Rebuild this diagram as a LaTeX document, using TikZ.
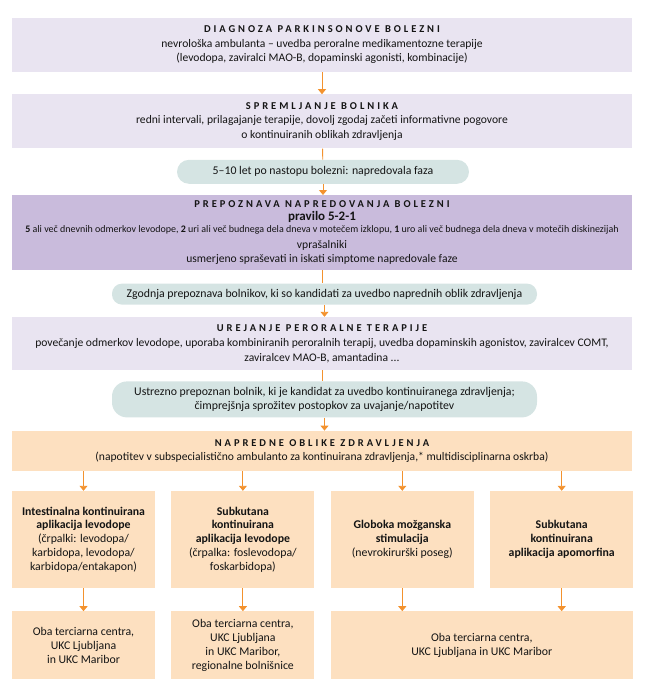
\documentclass[tikz,border=0pt]{standalone}
\usepackage{fontspec}
\setmainfont{Carlito}
\newfontfamily\spacedfont[LetterSpace=28]{Carlito}
\usetikzlibrary{arrows.meta,positioning}
\definecolor{lavender}{HTML}{E9E4F1}
\definecolor{violet}{HTML}{C9BBDC}
\definecolor{teal}{HTML}{D5E4E3}
\definecolor{peach}{HTML}{FDE0C0}
\definecolor{flow}{HTML}{F3922E}
\definecolor{ink}{HTML}{141414}
\newcommand{\heading}[1]{{\spacedfont\bfseries\fontsize{10.5}{12}\selectfont #1}}

\begin{document}
\begin{tikzpicture}[
  x=1pt, y=-1pt,
  mainbox/.style={fill=lavender, minimum width=620pt, inner sep=0pt, align=center, text=ink, font=\fontsize{11.6}{14.5}\selectfont},
  pill/.style={fill=teal, rounded corners=10pt, inner sep=0pt, align=center, text=ink, font=\fontsize{11.8}{14}\selectfont},
  carebox/.style={fill=peach, minimum width=143pt, inner sep=0pt, align=center, text=ink, font=\fontsize{11.8}{13.8}\selectfont},
  line/.style={draw=flow, line width=0.9pt},
  arr/.style={line, -{Triangle[width=8pt,length=5pt]}},
]
\useasboundingbox (0,0) rectangle (648,688);
% osnovni tok
\node[mainbox, minimum height=54pt] (diag) at (322,45)
  {\heading{DIAGNOZA PARKINSONOVE BOLEZNI}\\
   nevrološka ambulanta – uvedba peroralne medikamentozne terapije\\
   (levodopa, zaviralci MAO-B, dopaminski agonisti, kombinacije)};
\node[mainbox, minimum height=54pt, below=22pt of diag] (spreml)
  {\heading{SPREMLJANJE BOLNIKA}\\
   redni intervali, prilagajanje terapije, dovolj zgodaj začeti informativne pogovore\\
   o kontinuiranih oblikah zdravljenja};
\node[pill, rounded corners=12pt, minimum width=292pt, minimum height=24pt, below=11pt of spreml, xshift=1pt] (faza)
  {5–10 let po nastopu bolezni: napredovala faza};
\node[mainbox, fill=violet, minimum height=75pt, below=11pt of faza, xshift=-1pt] (prepoz)
  {\heading{PREPOZNAVA NAPREDOVANJA BOLEZNI}\\[-2pt]
   {\bfseries\fontsize{13}{14}\selectfont pravilo 5-2-1}\\[-2pt]
   {\fontsize{10}{12}\selectfont\textbf{5} ali več dnevnih odmerkov levodope, \textbf{2} uri ali več budnega dela dneva v motečem izklopu, \textbf{1} uro ali več budnega dela dneva v motečih diskinezijah}\\[1pt]
   vprašalniki\\
   usmerjeno spraševati in iskati simptome napredovale faze};
\node[pill, minimum width=425pt, minimum height=21pt, below=13pt of prepoz, xshift=2.5pt] (zgodnja)
  {Zgodnja prepoznava bolnikov, ki so kandidati za uvedbo naprednih oblik zdravljenja};
\node[mainbox, minimum height=53pt, below=12pt of zgodnja, xshift=-2.5pt] (urej)
  {\heading{UREJANJE PERORALNE TERAPIJE}\\[1pt]
   povečanje odmerkov levodope, uporaba kombiniranih peroralnih terapij, uvedba dopaminskih agonistov, zaviralcev COMT,\\
   zaviralcev MAO-B, amantadina ...};
\node[pill, rounded corners=15pt, minimum width=425pt, minimum height=36pt, below=11pt of urej, xshift=2.5pt] (ustrezno)
  {Ustrezno prepoznan bolnik, ki je kandidat za uvedbo kontinuiranega zdravljenja;\\
   čimprejšnja sprožitev postopkov za uvajanje/napotitev};
\node[mainbox, fill=peach, minimum height=40pt, below=13pt of ustrezno, xshift=-2.5pt] (napredne)
  {\heading{NAPREDNE OBLIKE ZDRAVLJENJA}\\
   (napotitev v subspecialistično ambulanto za kontinuirana zdravljenja,* multidisciplinarna oskrba)};
% oblike zdravljenja
\node[carebox, minimum height=97pt] (ivl) at (83.5,539.5)
  {\textbf{Intestinalna kontinuirana}\\
   \textbf{aplikacija levodope}\\
   (črpalki: levodopa/\\
   karbidopa, levodopa/\\
   karbidopa/entakapon)};
\node[carebox, minimum height=97pt, right=16pt of ivl] (skl)
  {\textbf{Subkutana}\\
   \textbf{kontinuirana}\\
   \textbf{aplikacija levodope}\\
   (črpalka: foslevodopa/\\
   foskarbidopa)};
\node[carebox, minimum height=97pt, right=16pt of skl] (gms)
  {\textbf{Globoka možganska}\\
   \textbf{stimulacija}\\
   (nevrokirurški poseg)};
\node[carebox, minimum height=97pt, right=16pt of gms] (ska)
  {\textbf{Subkutana}\\
   \textbf{kontinuirana}\\
   \textbf{aplikacija apomorfina}};
% centri
\node[carebox, minimum height=68pt, below=23pt of ivl] (cent1)
  {Oba terciarna centra,\\
   UKC Ljubljana\\
   in UKC Maribor};
\node[carebox, minimum height=68pt, below=23pt of skl] (cent2)
  {Oba terciarna centra,\\
   UKC Ljubljana\\
   in UKC Maribor,\\
   regionalne bolnišnice};
\node[carebox, minimum width=302pt, minimum height=68pt, below=23pt of gms.south west, anchor=north west] (cent3)
  {Oba terciarna centra,\\
   UKC Ljubljana in UKC Maribor};
% povezave
\draw[arr] (diag) -- (spreml);
\draw[line] (spreml) -- (faza);
\draw[arr] (faza) -- (faza |- prepoz.north);
\draw[line] (prepoz) -- (prepoz |- zgodnja.north);
\draw[arr] (zgodnja) -- (zgodnja |- urej.north);
\draw[line] (urej) -- (urej |- ustrezno.north);
\draw[arr] (ustrezno) -- (ustrezno |- napredne.north);
\foreach \n in {ivl,skl,gms,ska}
  \draw[arr] (napredne.south -| \n) -- (\n);
\draw[arr] (ivl) -- (cent1);
\draw[arr] (skl) -- (cent2);
\draw[arr] (gms) -- (gms |- cent3.north);
\draw[arr] (ska) -- (ska |- cent3.north);
\end{tikzpicture}
\end{document}
